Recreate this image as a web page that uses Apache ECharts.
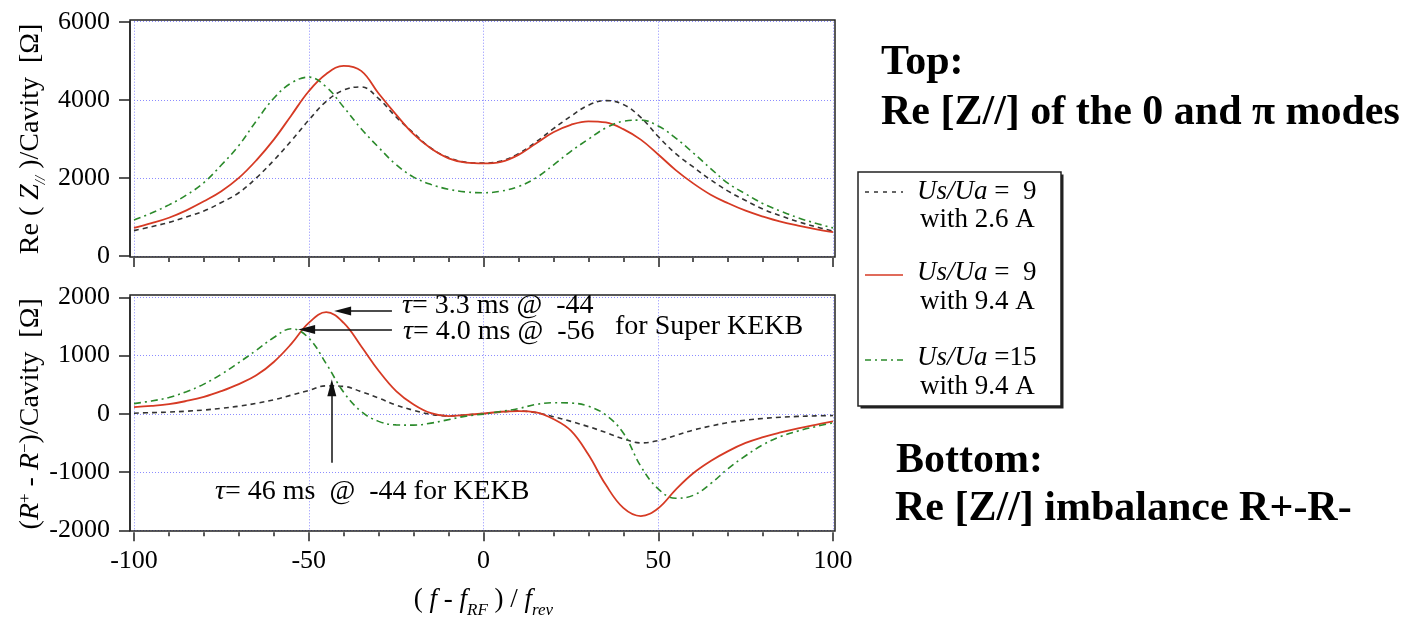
<!DOCTYPE html>
<html>
<head>
<meta charset="utf-8">
<script src="https://cdn.jsdelivr.net/npm/echarts@6/dist/echarts.min.js"></script>
<style>
  html, body { margin: 0; padding: 0; background: #fff; }
  #c1 { width: 1411px; height: 618px; }
</style>
</head>
<body>
<div id="c1"></div>
<script>
// frequency offset (f - fRF)/frev
const freq = [-100, -95, -90, -85, -80, -75, -70, -65, -60, -55, -50, -45, -40, -35, -30, -25, -20, -15, -10, -5,
  0, 5, 10, 15, 20, 25, 30, 35, 40, 45, 50, 55, 60, 65, 70, 75, 80, 85, 90, 95, 100]

// top: Re(Z//)/Cavity [ohm]
const topBlack = [650, 750, 860, 1000, 1150, 1370, 1620, 2000, 2450, 2950, 3480, 3960, 4250, 4330, 4030, 3560, 3150, 2760, 2520, 2400,
  2380, 2430, 2620, 2920, 3260, 3580, 3860, 3980, 3880, 3550, 3060, 2620, 2280, 1950, 1660, 1420, 1200, 1030, 880, 750, 640]
const topRed = [720, 840, 980, 1170, 1400, 1660, 2000, 2450, 2980, 3600, 4220, 4660, 4870, 4740, 4160, 3620, 3120, 2750, 2500, 2390,
  2370, 2410, 2590, 2880, 3170, 3360, 3450, 3420, 3250, 2980, 2600, 2200, 1860, 1570, 1350, 1160, 1010, 880, 780, 690, 610]
const topGreen = [920, 1100, 1310, 1560, 1880, 2330, 2830, 3460, 4040, 4430, 4580, 4330, 3810, 3260, 2780, 2340, 2020, 1830, 1710, 1640,
  1620, 1660, 1780, 2000, 2330, 2680, 2990, 3280, 3450, 3480, 3330, 3020, 2640, 2240, 1860, 1590, 1340, 1150, 980, 840, 720]

// bottom: (R+ - R-)/Cavity [ohm]
const botBlack = [10, 20, 30, 45, 65, 95, 130, 180, 240, 320, 400, 480, 470, 380, 270, 150, 60, -10, -35, -20,
  5, 30, 50, 20, -50, -130, -220, -320, -430, -500, -460, -370, -280, -210, -150, -110, -80, -60, -45, -35, -30]
const botRed = [115, 135, 165, 220, 290, 390, 510, 660, 890, 1200, 1560, 1745, 1560, 1160, 740, 390, 160, 10, -40, -20,
  5, 35, 45, 25, -90, -290, -700, -1220, -1615, -1755, -1620, -1300, -1020, -810, -640, -500, -400, -320, -250, -190, -130]
const botGreen = [175, 220, 280, 380, 510, 680, 880, 1090, 1310, 1460, 1300, 860, 370, 40, -130, -190, -195, -160, -100, -40,
  -5, 40, 90, 160, 190, 185, 130, -20, -330, -900, -1290, -1450, -1400, -1200, -940, -720, -530, -390, -295, -220, -155]

const xTicks = [-100, -50, 0, 50, 100]
const topYLabels = [0, 2000, 4000, 6000]
const botYLabels = [-2000, -1000, 0, 1000, 2000]

// arrows: [from, to] in data coords of the bottom panel
const arrows = [
  [[-26.2, 1763], [-40.3, 1763]],
  [[-26.2, 1448], [-50.6, 1448]],
  [[-43.4, -842], [-43.4, 447]]
]

const FONT = '"Liberation Serif", "Times New Roman", serif'
const gridColor = '#8c8cff'
const cBlack = '#333333'
const cRed = '#d63a24'
const cGreen = '#2b8a2b'

const pairs = (ys) => freq.map((x, i) => [x, ys[i]])

const myChart = echarts.init(document.getElementById('c1'))

const splitLine = { show: true, lineStyle: { color: gridColor, type: [1, 2], width: 1 } }

const xBase = {
  type: 'value', min: -100, max: 100, interval: 50, offset: 2,
  axisLine: { show: false, onZero: false },
  axisTick: { show: true, length: 9, lineStyle: { color: '#222', width: 1.5 } },
  minorTick: { show: true, splitNumber: 5, length: 4, lineStyle: { color: '#222', width: 1.5 } },
  splitLine: splitLine
}

const yBase = {
  type: 'value', interval: 1000, offset: 4,
  axisLine: { show: true, onZero: false, lineStyle: { color: '#222', width: 1.5 } },
  axisTick: { show: true, length: 11, lineStyle: { color: '#222', width: 1.5 } },
  axisLabel: { color: '#000', fontFamily: FONT, fontSize: 26, margin: 20, formatter: v => String(v) },
  splitLine: splitLine,
  nameLocation: 'middle',
  nameGap: 85,
  nameTextStyle: {
    color: '#000', fontFamily: FONT, fontSize: 28,
    rich: {
      i: { fontFamily: FONT, fontSize: 28, fontStyle: 'italic', color: '#000' },
      sub: { fontFamily: FONT, fontSize: 15, fontStyle: 'italic', color: '#000', verticalAlign: 'bottom', lineHeight: 15, padding: [0, 0, -4, 0] },
      sup: { fontFamily: FONT, fontSize: 17, color: '#000', verticalAlign: 'top', lineHeight: 17 }
    }
  }
}

const lineSeries = (name, data, xi, color, type, width) => ({
  name: name, type: 'line', xAxisIndex: xi, yAxisIndex: xi,
  data: data, smooth: 0.4, symbol: 'none', silent: true,
  lineStyle: { color: color, type: type, width: width },
  z: 3
})

const txt = (x, y, text, font) => ({
  type: 'text', x: x, y: y, z: 20,
  style: { text: text, font: font, fill: '#000', align: 'left', verticalAlign: 'middle' }
})

const richTxt = (x, y, text, size) => ({
  type: 'text', x: x, y: y, z: 20,
  style: {
    text: text, font: size + 'px ' + FONT, fill: '#000', verticalAlign: 'middle',
    rich: { t: { fontFamily: FONT, fontSize: size, fontStyle: 'italic', fill: '#000' } }
  }
})

const option = {
  animation: false,
  backgroundColor: '#fff',
  grid: [
    { left: 134, top: 21.7, width: 699, height: 234.3, containLabel: false, outerBoundsMode: 'none' },
    { left: 134, top: 297.3, width: 699, height: 233, containLabel: false, outerBoundsMode: 'none' }
  ],
  xAxis: [
    Object.assign({}, xBase, { gridIndex: 0, axisLabel: { show: false } }),
    Object.assign({}, xBase, {
      gridIndex: 1,
      axisLabel: { show: true, color: '#000', fontFamily: FONT, fontSize: 26, margin: 16, customValues: xTicks, formatter: v => String(v) },
      name: '( {i|f} - {i|f}{sub|RF} ) / {i|f}{sub|rev}',
      nameLocation: 'middle',
      nameGap: 54,
      nameTextStyle: {
        color: '#000', fontFamily: FONT, fontSize: 27,
        rich: {
          i: { fontFamily: FONT, fontSize: 27, fontStyle: 'italic', color: '#000' },
          sub: { fontFamily: FONT, fontSize: 17, fontStyle: 'italic', color: '#000', verticalAlign: 'bottom', lineHeight: 17, padding: [0, 0, -6, 0] }
        }
      }
    })
  ],
  yAxis: [
    Object.assign({}, yBase, {
      gridIndex: 0, min: 0, max: 6000,
      axisTick: Object.assign({}, yBase.axisTick, { customValues: topYLabels }),
      axisLabel: Object.assign({}, yBase.axisLabel, { customValues: topYLabels }),
      name: 'Re ( {i|Z}{sub|//} )/Cavity  [Ω]'
    }),
    Object.assign({}, yBase, {
      gridIndex: 1, min: -2000, max: 2000,
      axisTick: Object.assign({}, yBase.axisTick, { customValues: botYLabels }),
      axisLabel: Object.assign({}, yBase.axisLabel, { customValues: botYLabels }),
      name: '({i|R}{sup|+} - {i|R}{sup|−})/Cavity  [Ω]'
    })
  ],
  series: [
    lineSeries('Us/Ua = 9 with 2.6 A', pairs(topBlack), 0, cBlack, [5, 4], 1.6),
    lineSeries('Us/Ua = 9 with 9.4 A', pairs(topRed), 0, cRed, 'solid', 1.8),
    lineSeries('Us/Ua = 15 with 9.4 A', pairs(topGreen), 0, cGreen, [7, 4, 2, 4], 1.6),
    lineSeries('Us/Ua = 9 with 2.6 A', pairs(botBlack), 1, cBlack, [5, 4], 1.6),
    Object.assign(lineSeries('Us/Ua = 9 with 9.4 A', pairs(botRed), 1, cRed, 'solid', 1.8), {
      markLine: {
        silent: true,
        symbol: ['none', 'triangle'],
        symbolSize: [9, 17],
        label: { show: false },
        lineStyle: { color: '#111', type: 'solid', width: 1.5 },
        data: arrows.map(a => [{ coord: a[0] }, { coord: a[1] }])
      }
    }),
    lineSeries('Us/Ua = 15 with 9.4 A', pairs(botGreen), 1, cGreen, [7, 4, 2, 4], 1.6)
  ],
  graphic: [
    // plot frames
    { type: 'rect', z: 15, shape: { x: 130, y: 20, width: 705, height: 237 }, style: { fill: 'none', stroke: '#222', lineWidth: 1.5 } },
    { type: 'rect', z: 15, shape: { x: 130, y: 295, width: 705, height: 236 }, style: { fill: 'none', stroke: '#222', lineWidth: 1.5 } },

    // annotations
    richTxt(402, 306, '{t|τ}= 3.3 ms @  -44', 28),
    richTxt(403, 332, '{t|τ}= 4.0 ms @  -56', 28),
    txt(615, 327, 'for Super KEKB', '28px ' + FONT),
    richTxt(215, 492, '{t|τ}= 46 ms  @  -44 for KEKB', 28),

    // right-hand notes
    txt(881, 63, 'Top:', 'bold 42px ' + FONT),
    txt(881, 113, 'Re [Z//] of the 0 and π modes', 'bold 42px ' + FONT),
    txt(896, 461, 'Bottom:', 'bold 42px ' + FONT),
    txt(895, 509, 'Re [Z//] imbalance R+-R-', 'bold 42px ' + FONT),

    // legend box
    { type: 'rect', z: 10, shape: { x: 860.5, y: 174.5, width: 203, height: 234 }, style: { fill: '#222', stroke: 'none' } },
    { type: 'rect', z: 11, shape: { x: 858, y: 172, width: 203, height: 234 }, style: { fill: '#fff', stroke: '#222', lineWidth: 1.5 } },
    { type: 'line', z: 12, shape: { x1: 865, y1: 192, x2: 903, y2: 192 }, style: { stroke: cBlack, lineWidth: 1.4, lineDash: [4, 5] } },
    { type: 'line', z: 12, shape: { x1: 865, y1: 275, x2: 903, y2: 275 }, style: { stroke: cRed, lineWidth: 1.6 } },
    { type: 'line', z: 12, shape: { x1: 865, y1: 360, x2: 903, y2: 360 }, style: { stroke: cGreen, lineWidth: 1.6, lineDash: [6, 4, 2, 4] } },
    richTxt(917, 192, '{t|Us/Ua} =  9', 27),
    txt(920, 220, 'with 2.6 A', '27px ' + FONT),
    richTxt(917, 273, '{t|Us/Ua} =  9', 27),
    txt(920, 302, 'with 9.4 A', '27px ' + FONT),
    richTxt(917, 358, '{t|Us/Ua} =15', 27),
    txt(920, 387, 'with 9.4 A', '27px ' + FONT)
  ]
}

myChart.setOption(option)
</script>
</body>
</html>
